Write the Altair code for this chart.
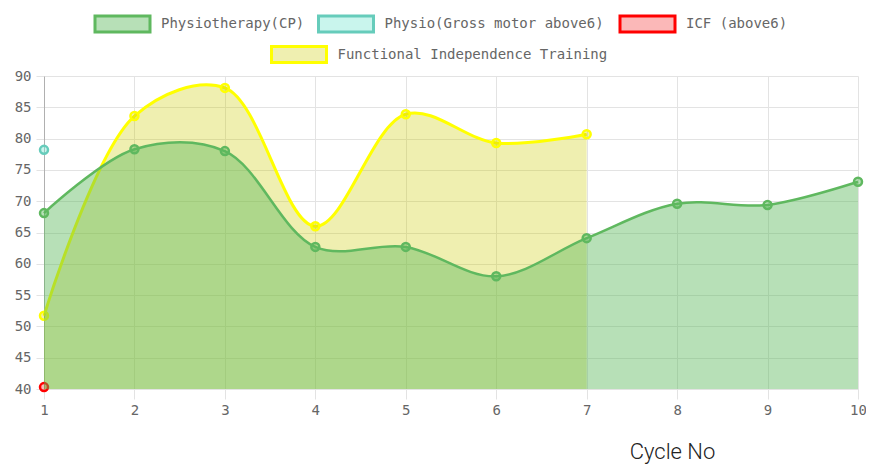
import altair as alt
import pandas as pd

cycles = [1, 2, 3, 4, 5, 6, 7, 8, 9, 10]
physio_cp = [68.1, 78.3, 78.0, 62.7, 62.7, 58.0, 64.1, 69.6, 69.4, 73.1]
physio_gross = [78.2]
icf = [40.3]
fit = [51.7, 83.6, 88.1, 66.0, 83.9, 79.3, 80.7]

series_names = [
    "Physiotherapy(CP)",
    "Physio(Gross motor above6)",
    "ICF (above6)",
    "Functional Independence Training",
]
series_values = [physio_cp, physio_gross, icf, fit]
stroke_colors = ["#5fb85f", "#66ccbb", "#ff0000", "#ffff00"]
fill_colors = ["rgba(92,184,92,0.44)", "rgba(120,230,210,0.4)",
               "rgba(240,0,0,0.28)", "rgba(204,204,0,0.31)"]
line_widths = [2.5, 3, 3, 3]
legend_pos = [(67, -63.5), (290.5, -63.5), (592, -63.5), (243.5, -33)]

FONT = "DejaVu Sans Mono"
RECT = "M-2.75,-0.8H2.75V0.8H-2.75Z"
INTERP = "catmull-rom"

x_scale = alt.Scale(domain=[1, 10], nice=False, zero=False)
y_scale = alt.Scale(domain=[40, 90], nice=False, zero=False)

x_axis = alt.Axis(values=cycles, title="Cycle No", labelFont=FONT, labelFontSize=14,
                  labelColor="#666", tickSize=10, tickColor="#e3e3e3", labelPadding=4,
                  labelFlush=False,
                  gridColor="#e3e3e3", domainColor="#e3e3e3",
                  titleFont="Roboto", titleFontWeight=300, titleFontSize=22,
                  titleColor="#222", titleX=628, titleY=62, titleBaseline="middle",
                  titleAlign="center", titleAnchor="start")
y_axis = alt.Axis(values=list(range(40, 91, 5)), title=None, labelFont=FONT,
                  labelFontSize=14, labelColor="#666", tickSize=8, tickColor="#e3e3e3",
                  labelPadding=5, labelFlush=False,
                  gridColor="#e3e3e3", domainColor="#b0b0b0")

def series_layer(i):
    df = pd.DataFrame({
        "cycle": cycles[:len(series_values[i])],
        "value": series_values[i],
        "series": series_names[i],
    })
    base = alt.Chart(df)
    xenc = alt.X("cycle:Q", scale=x_scale, axis=x_axis)
    yenc = alt.Y("value:Q", scale=y_scale, axis=y_axis)
    area = base.mark_area(interpolate=INTERP, fill=fill_colors[i], opacity=1).encode(
        x=xenc, y=yenc, y2=alt.datum(40))
    line = base.mark_line(interpolate=INTERP, stroke=stroke_colors[i],
                          strokeWidth=line_widths[i]).encode(x=xenc, y=yenc)
    lx, ly = legend_pos[i]
    pts = base.mark_circle(size=64, stroke=stroke_colors[i], strokeWidth=2.5,
                           opacity=1).encode(
        x=xenc, y=yenc,
        fill=alt.Fill("series:N",
                      scale=alt.Scale(domain=[series_names[i]], range=[fill_colors[i]]),
                      legend=alt.Legend(title=None, orient="none", legendX=lx, legendY=ly,
                                        symbolType=RECT, symbolSize=400,
                                        symbolStrokeWidth=3,
                                        symbolStrokeColor=stroke_colors[i],
                                        symbolOpacity=1, labelFont=FONT,
                                        labelFontSize=14, labelColor="#666",
                                        labelOffset=27, labelLimit=600, padding=0)))
    return alt.layer(area, line, pts)

order = [3, 2, 1, 0]
layers = [series_layer(i) for i in order]

chart = alt.layer(*layers).resolve_scale(fill="independent").resolve_legend(
    fill="independent").properties(
    width=814, height=313,
    autosize=alt.AutoSizeParams(type="none"),
    padding={"left": 36, "top": 68, "right": 8, "bottom": 75},
).configure_view(stroke=None)

chart.save("out.html", embed_options={"renderer": "svg", "actions": False})
